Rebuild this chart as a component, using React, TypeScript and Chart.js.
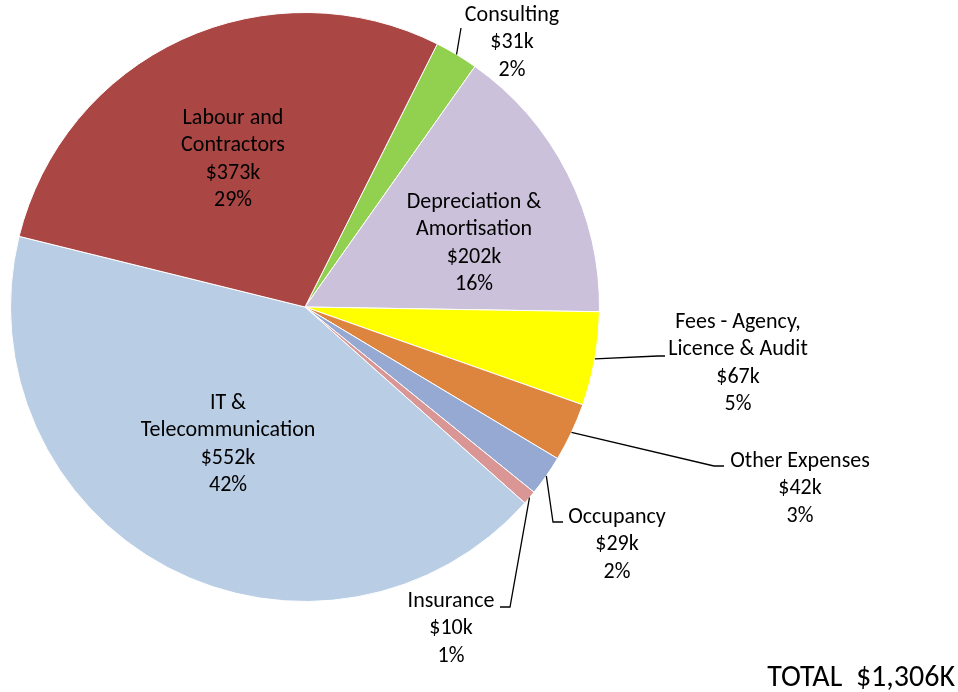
import React, { useEffect, useRef } from "react";
import { Chart, registerables } from "chart.js";

Chart.register(...registerables);

const categories = [
  "Consulting",
  "Depreciation & Amortisation",
  "Fees - Agency, Licence & Audit",
  "Other Expenses",
  "Occupancy",
  "Insurance",
  "IT & Telecommunication",
  "Labour and Contractors",
];
const labelLines = [
  ["Consulting"],
  ["Depreciation &", "Amortisation"],
  ["Fees - Agency,", "Licence & Audit"],
  ["Other Expenses"],
  ["Occupancy"],
  ["Insurance"],
  ["IT &", "Telecommunication"],
  ["Labour and", "Contractors"],
];
const values = [31, 202, 67, 42, 29, 10, 552, 373];
const valueLabels = ["$31k", "$202k", "$67k", "$42k", "$29k", "$10k", "$552k", "$373k"];
const percentLabels = ["2%", "16%", "5%", "3%", "2%", "1%", "42%", "29%"];
const totalLabel = "TOTAL  $1,306K";

const colors = ["#92D050", "#CCC1DA", "#FFFF00", "#DD843F", "#95A9D3", "#D99694", "#B9CDE5", "#AA4643"];

// label layout: center x, first line y, optional leader elbow points
type LabelLayout = { x: number; y: number; inside: boolean; leader?: number[][] };
const labelLayout: LabelLayout[] = [
  { x: 512, y: 15, inside: false, leader: [[461, 28]] },
  { x: 474, y: 202, inside: true },
  { x: 738, y: 322, inside: false, leader: [[658, 356], [665, 356]] },
  { x: 800, y: 461, inside: false, leader: [[714, 466], [724, 466]] },
  { x: 617, y: 517, inside: false, leader: [[553, 522], [563, 522]] },
  { x: 451, y: 601, inside: false, leader: [[510, 607], [500, 607]] },
  { x: 228, y: 403, inside: true },
  { x: 233, y: 118, inside: true },
];

const FONT = "22px Carlito, Lato, 'Open Sans', sans-serif";
const TOTAL_FONT = "30px Carlito, Lato, 'Open Sans', sans-serif";
const LINE_H = 27.5;

const labelPlugin = {
  id: "pieLabels",
  afterDraw(chart: any) {
    const ctx = chart.ctx;
    const meta = chart.getDatasetMeta(0);
    ctx.save();
    ctx.font = FONT;
    ctx.fillStyle = "#000";
    ctx.textAlign = "center";
    ctx.textBaseline = "middle";
    meta.data.forEach((arc: any, i: number) => {
      const lay = labelLayout[i];
      if (lay.leader) {
        const mid = (arc.startAngle + arc.endAngle) / 2;
        const sx = arc.x + Math.cos(mid) * arc.outerRadius;
        const sy = arc.y + Math.sin(mid) * arc.outerRadius;
        ctx.beginPath();
        ctx.strokeStyle = "#000";
        ctx.lineWidth = 1.3;
        ctx.moveTo(sx, sy);
        lay.leader.forEach((p) => ctx.lineTo(p[0], p[1]));
        ctx.stroke();
      }
      const lines = [...labelLines[i], valueLabels[i], percentLabels[i]];
      lines.forEach((t, k) => ctx.fillText(t, lay.x, lay.y + k * LINE_H));
    });
    ctx.font = TOTAL_FONT;
    ctx.textAlign = "right";
    ctx.fillText(totalLabel, 955, 678);
    ctx.restore();
  },
};

export default function App() {
  const ref = useRef<HTMLCanvasElement>(null);
  useEffect(() => {
    const chart = new Chart(ref.current!, {
      type: "pie",
      data: {
        labels: categories,
        datasets: [
          {
            data: values,
            backgroundColor: colors,
            borderColor: "#ffffff",
            borderWidth: 1,
          },
        ],
      },
      options: {
        responsive: false,
        animation: false,
        rotation: 26.7,
        layout: { padding: { left: 10, right: 358, top: 12, bottom: 90 } },
        plugins: { legend: { display: false }, tooltip: { enabled: false } },
      },
      plugins: [labelPlugin],
    });
    return () => chart.destroy();
  }, []);
  return (
    <div style={{ position: "fixed", left: 0, top: 0, width: 958, height: 692, background: "#fff" }}>
      <canvas ref={ref} width={958} height={692} style={{ width: 958, height: 692 }} />
    </div>
  );
}
